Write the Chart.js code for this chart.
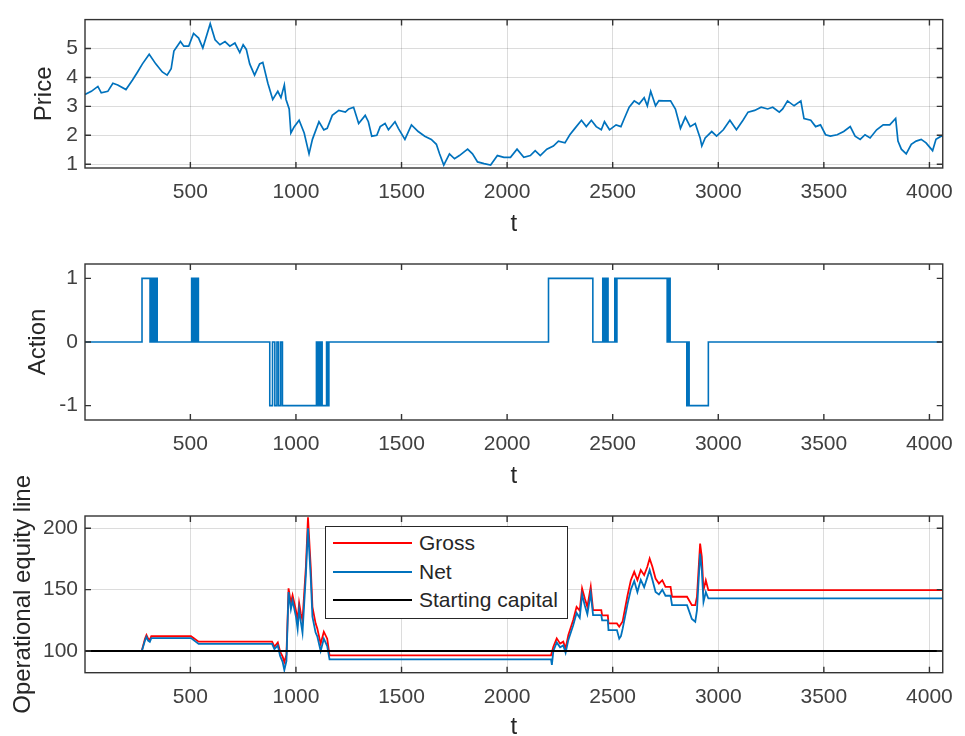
<!DOCTYPE html>
<html>
<head>
<meta charset="utf-8">
<script src="https://cdn.jsdelivr.net/npm/chart.js@4.4.1/dist/chart.umd.min.js"></script>
<style>
body { margin: 0; background: #fff; }
#wrap { position: relative; width: 965px; height: 736px; overflow: hidden; background: #fff; }
#wrap canvas { position: absolute; left: 0; top: 0; }
#legend {
  position: absolute; left: 325px; top: 526px; width: 243px; height: 93px;
  box-sizing: border-box; border: 1px solid #262626; background: #fff;
  font-family: "Liberation Sans", Arial, sans-serif; font-size: 21px; color: #262626;
}
#legend .row { position: absolute; left: 0; width: 100%; height: 28px; }
#legend .swatch { position: absolute; left: 7px; top: 13px; width: 79px; height: 2px; }
#legend .lbl { position: absolute; left: 93px; top: 0; line-height: 28px; white-space: nowrap; }
</style>
</head>
<body>
<div id="wrap">
  <canvas id="c1" width="965" height="800"></canvas>
  <canvas id="c2" width="965" height="800"></canvas>
  <canvas id="c3" width="965" height="800"></canvas>
  <div id="legend"></div>
</div>
<script>
// ---- data ----
const tMin = 1, tMax = 4063;
const xTicks = [500, 1000, 1500, 2000, 2500, 3000, 3500, 4000];

const priceTicks = [1, 2, 3, 4, 5];
const priceT = [1, 31, 62, 78, 109, 133, 156, 195, 226, 250, 273, 305, 336, 367, 390, 409, 422, 453, 469, 492,
  515, 539, 559, 594, 617, 640, 664, 687, 711, 734, 750, 765, 781, 804, 828, 843, 867, 890, 914, 929,
  945, 953, 968, 976, 992, 1015, 1039, 1062, 1078, 1109, 1132, 1148, 1172, 1203, 1234, 1250, 1273, 1297, 1328, 1343,
  1359, 1383, 1399, 1422, 1438, 1469, 1485, 1516, 1547, 1579, 1610, 1641, 1665, 1680, 1700, 1727, 1751, 1774, 1813, 1836,
  1860, 1891, 1922, 1954, 1985, 2016, 2047, 2079, 2110, 2133, 2157, 2188, 2219, 2243, 2274, 2297, 2321, 2352, 2375, 2399,
  2422, 2446, 2461, 2485, 2516, 2539, 2555, 2578, 2602, 2625, 2649, 2664, 2680, 2703, 2719, 2742, 2774, 2797, 2813, 2821,
  2844, 2867, 2891, 2914, 2922, 2938, 2969, 2992, 3024, 3055, 3086, 3117, 3141, 3172, 3203, 3234, 3258, 3289, 3305, 3328,
  3359, 3391, 3406, 3438, 3461, 3484, 3508, 3531, 3563, 3594, 3625, 3648, 3672, 3695, 3719, 3750, 3781, 3812, 3840, 3851,
  3867, 3890, 3914, 3937, 3961, 3984, 4015, 4031, 4055, 4063];
const priceV = [3.41, 3.52, 3.69, 3.47, 3.52, 3.80, 3.74, 3.58, 3.91, 4.19, 4.47, 4.80, 4.47, 4.19, 4.08, 4.30, 4.91, 5.24, 5.08, 5.08,
  5.52, 5.36, 5.02, 5.86, 5.30, 5.13, 5.24, 5.08, 5.19, 4.86, 5.13, 4.97, 4.47, 4.08, 4.47, 4.52, 3.80, 3.24, 3.52, 3.30,
  3.74, 3.24, 2.91, 2.08, 2.30, 2.52, 2.08, 1.36, 1.86, 2.47, 2.19, 2.24, 2.69, 2.86, 2.80, 2.91, 2.97, 2.41, 2.69, 2.47,
  1.97, 2.00, 2.30, 2.41, 2.19, 2.47, 2.24, 1.86, 2.36, 2.13, 1.97, 1.86, 1.69, 1.36, 0.97, 1.36, 1.19, 1.30, 1.52, 1.36,
  1.08, 1.02, 0.97, 1.30, 1.24, 1.24, 1.52, 1.24, 1.30, 1.47, 1.30, 1.52, 1.63, 1.80, 1.74, 2.02, 2.24, 2.52, 2.30, 2.52,
  2.30, 2.19, 2.47, 2.19, 2.36, 2.30, 2.58, 2.97, 3.19, 3.08, 3.30, 3.02, 3.52, 3.02, 3.20, 3.19, 3.19, 2.91, 2.47, 2.24,
  2.63, 2.30, 2.41, 1.91, 1.63, 1.91, 2.13, 1.97, 2.19, 2.52, 2.19, 2.52, 2.80, 2.86, 2.97, 2.91, 2.97, 2.80, 2.91, 3.19,
  3.02, 3.19, 2.58, 2.52, 2.30, 2.36, 2.02, 1.97, 2.02, 2.13, 2.30, 1.97, 1.86, 2.02, 1.91, 2.19, 2.36, 2.36, 2.58, 1.80,
  1.52, 1.36, 1.69, 1.80, 1.86, 1.74, 1.47, 1.86, 1.97, 1.97];

// action: time where the position changes, and the new position
const actionTicks = [-1, 0, 1];
const actionT = [1, 271, 309, 314, 320, 326, 333, 337, 343, 506, 511, 515, 520, 524, 529, 533, 538,
  876, 889, 900, 910, 918, 928, 936, 1097, 1102, 1107, 1112, 1118, 1124, 1145, 1150, 1156,
  2196, 2406, 2453, 2458, 2462, 2467, 2471, 2478, 2510, 2515, 2520, 2758, 2765, 2772,
  2851, 2857, 2862, 2953, 4063];
const actionV = [0, 1, 0, 1, 0, 1, 0, 1, 0, 1, 0, 1, 0, 1, 0, 1, 0,
  -1, 0, -1, 0, -1, 0, -1, 0, -1, 0, -1, 0, -1, 0, -1, 0,
  1, 0, 1, 0, 1, 0, 1, 0, 1, 0, 1, 0, 1, 0,
  -1, 0, -1, 0, 0];

const equityTicks = [100, 150, 200];
const startCapital = 100;
const grossT = [271, 285, 292, 300, 308, 315, 503, 539, 887, 898, 914, 925, 937, 945, 955, 965, 976, 984, 1000,
  1008, 1015, 1023, 1031, 1047, 1057, 1070, 1078, 1093, 1101, 1117, 1132, 1148, 1159, 2208, 2219, 2235, 2251, 2266, 2277,
  2290, 2313, 2329, 2344, 2355, 2368, 2380, 2396, 2407, 2446, 2450, 2477, 2480, 2520, 2531, 2547, 2570, 2586, 2602, 2617,
  2633, 2649, 2664, 2675, 2688, 2703, 2719, 2735, 2750, 2774, 2781, 2852, 2875, 2891, 2899, 2914, 2922, 2930, 2941, 2953, 4063];
const grossV = [100.8, 110, 113, 110, 109, 112, 112, 107.6, 107.6, 103.5, 107, 99.5, 95.4, 91, 97, 151, 139, 145.5, 133,
  125, 139, 130.6, 125, 168.6, 209, 168.6, 136, 122.5, 118.4, 106, 115.7, 110, 96.5, 96.5, 103.5, 110.3, 106, 107.6, 102,
  113, 125.2, 136, 133, 151, 142.8, 136, 152.3, 133.3, 133.3, 129, 129, 122.5, 122.5, 119.8, 124, 145, 157.7, 164.5, 157.7,
  165.9, 161.8, 168.6, 175.3, 168.6, 159, 155, 157.7, 152.3, 152.3, 144.2, 144.2, 137.4, 137.4, 144, 187.5, 176.7, 149.6, 157.7, 149.6, 149.6];
const netT = [271, 285, 292, 300, 308, 315, 503, 539, 887, 898, 914, 925, 937, 945, 955, 965, 976, 984, 1000,
  1008, 1015, 1023, 1031, 1047, 1057, 1070, 1078, 1093, 1101, 1117, 1132, 1148, 1159, 2208, 2212, 2219, 2235, 2251, 2266,
  2277, 2290, 2313, 2329, 2344, 2355, 2368, 2380, 2396, 2407, 2446, 2450, 2477, 2480, 2520, 2531, 2539, 2547, 2570, 2586,
  2602, 2617, 2633, 2649, 2664, 2675, 2688, 2703, 2719, 2735, 2750, 2774, 2781, 2852, 2875, 2891, 2899, 2914, 2922, 2930,
  2941, 2953, 4063];
const netV = [100.5, 108.5, 111.5, 108.5, 107.5, 110.5, 110.5, 105.8, 105.8, 101.5, 104.5, 96, 91, 84.5, 92, 148, 134, 141, 128,
  118, 134, 124, 115, 162, 200, 160, 128, 115, 112, 100, 110, 104, 93.2, 93.2, 88.6, 100, 107, 103, 104.5,
  98.5, 109, 121, 131, 127, 146, 137, 130, 147, 129.3, 129.3, 125, 125, 117, 117, 110, 112, 118, 138, 150,
  157, 148, 158, 152, 160, 166, 158, 148, 146, 150, 145, 145, 137.4, 137.4, 126, 123.8, 133, 179.4, 166, 140,
  148, 142.8, 142.8];

const seriesNames = ['Gross', 'Net', 'Starting capital'];
const seriesColors = ['#ff0000', '#0072bd', '#000000'];

// ---- helpers ----
const FONT = '"Liberation Sans", Arial, sans-serif';
Chart.defaults.font.family = FONT;
Chart.defaults.color = '#404040';
const GRID = 'rgba(38,38,38,0.16)';
const H = 800;
const TITLE_SIZE = 24, HALF_LH = TITLE_SIZE * 1.2 / 2;

function pts(ts, vs) { return ts.map((t, i) => ({ x: t, y: vs[i] })); }

// matlab-like box with inward ticks on all four sides
const boxPlugin = {
  id: 'mbox',
  afterDraw(chart) {
    const { ctx, chartArea: a, scales: { x, y } } = chart;
    const L = 6;
    ctx.save();
    ctx.strokeStyle = '#333';
    ctx.lineWidth = 1.4;
    ctx.beginPath();
    x.ticks.forEach(t => {
      const px = x.getPixelForValue(t.value);
      ctx.moveTo(px, a.bottom); ctx.lineTo(px, a.bottom - L);
      ctx.moveTo(px, a.top); ctx.lineTo(px, a.top + L);
    });
    y.ticks.forEach(t => {
      const py = y.getPixelForValue(t.value);
      ctx.moveTo(a.left, py); ctx.lineTo(a.left + L, py);
      ctx.moveTo(a.right, py); ctx.lineTo(a.right - L, py);
    });
    ctx.stroke();
    ctx.strokeRect(a.left, a.top, a.right - a.left, a.bottom - a.top);
    ctx.restore();
  }
};

function panel(id, p) {
  const padBottom = H - p.tCenter - HALF_LH;
  return new Chart(document.getElementById(id), {
    type: 'line',
    data: { datasets: p.datasets },
    options: {
      responsive: false,
      animation: false,
      events: [],
      layout: { padding: { left: 0, right: 13.3, top: p.top, bottom: padBottom } },
      plugins: { legend: { display: false }, tooltip: { enabled: false } },
      elements: { point: { radius: 0 }, line: { tension: 0 } },
      scales: {
        x: {
          type: 'linear', min: tMin, max: tMax,
          afterBuildTicks: s => { s.ticks = xTicks.map(v => ({ value: v })); },
          afterFit: s => { s.height = p.tCenter + HALF_LH - p.bottom; },
          grid: { display: p.grid, color: GRID, drawTicks: false },
          border: { display: false },
          ticks: { font: { size: 21 }, padding: 12, maxRotation: 0, autoSkip: false, callback: v => String(v) },
          title: { display: true, text: 't', color: '#262626', font: { size: TITLE_SIZE }, padding: { top: 0, bottom: 0 } }
        },
        y: {
          type: 'linear', min: p.yMin, max: p.yMax,
          afterBuildTicks: s => { s.ticks = p.yTicks.map(v => ({ value: v })); },
          afterFit: s => { s.width = 85; },
          grid: { display: p.grid, color: GRID, drawTicks: false },
          border: { display: false },
          ticks: { font: { size: 21 }, padding: 7, autoSkip: false, callback: v => String(v) },
          title: { display: true, text: p.yLabel, color: '#262626', font: { size: TITLE_SIZE }, padding: { top: p.yTitleX - HALF_LH, bottom: 0 } }
        }
      }
    },
    plugins: [boxPlugin]
  });
}

panel('c1', {
  top: 14, bottom: 168, tCenter: 224, yTitleX: 44.7, grid: true,
  yMin: 0.87, yMax: 6.0, yTicks: priceTicks, yLabel: 'Price',
  datasets: [{ data: pts(priceT, priceV), borderColor: '#0072bd', borderWidth: 1.7 }]
});

panel('c2', {
  top: 264, bottom: 420, tCenter: 476, yTitleX: 38.5, grid: false,
  yMin: -1.225, yMax: 1.225, yTicks: actionTicks, yLabel: 'Action',
  datasets: [{ data: pts(actionT, actionV), borderColor: '#0072bd', borderWidth: 1.6, stepped: 'before' }]
});

panel('c3', {
  top: 516, bottom: 672.7, tCenter: 727.5, yTitleX: 23.5, grid: true,
  yMin: 82.3, yMax: 210, yTicks: equityTicks, yLabel: 'Operational equity line',
  datasets: [
    { label: seriesNames[0], data: pts(grossT, grossV), borderColor: seriesColors[0], borderWidth: 1.8, order: 2 },
    { label: seriesNames[1], data: pts(netT, netV), borderColor: seriesColors[1], borderWidth: 1.8, order: 1 },
    { label: seriesNames[2], data: pts([tMin, tMax], [startCapital, startCapital]), borderColor: seriesColors[2], borderWidth: 2, order: 0 }
  ]
});

// legend box inside the bottom axes
const legend = document.getElementById('legend');
seriesNames.forEach((name, i) => {
  const row = document.createElement('div');
  row.className = 'row';
  row.style.top = (2.3 + i * 28.4) + 'px';
  row.innerHTML = '<div class="swatch" style="background:' + seriesColors[i] + '"></div><div class="lbl">' + name + '</div>';
  legend.appendChild(row);
});
</script>
</body>
</html>
